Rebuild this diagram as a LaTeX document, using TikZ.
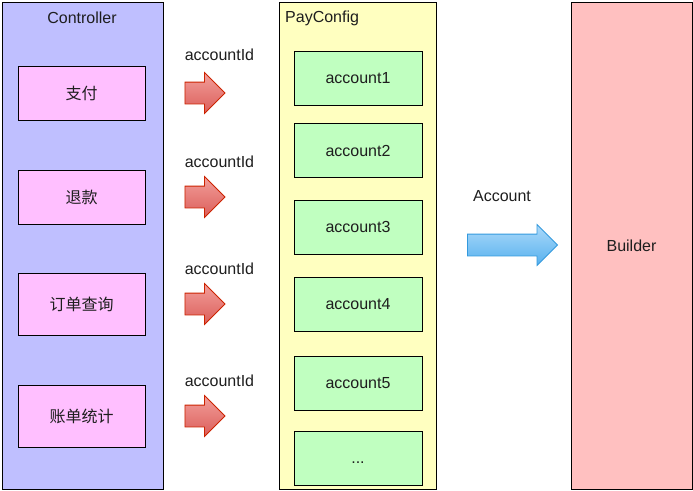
\documentclass[tikz,border=0pt]{standalone}
\usepackage{fontspec}
\setmainfont{Liberation Sans}
\newfontfamily\cjk{Noto Sans CJK SC}
\usetikzlibrary{positioning,shapes.arrows}
\definecolor{ctrlfill}{RGB}{191,191,255}
\definecolor{opfill}{RGB}{255,191,255}
\definecolor{cfgfill}{RGB}{255,255,192}
\definecolor{accfill}{RGB}{192,255,192}
\definecolor{bldfill}{RGB}{255,192,192}
\definecolor{redtop}{RGB}{242,158,154}
\definecolor{redbot}{RGB}{219,94,90}
\definecolor{redline}{RGB}{204,34,0}
\definecolor{bluetop}{RGB}{172,218,250}
\definecolor{bluebot}{RGB}{86,176,238}
\definecolor{blueline}{RGB}{51,153,221}
\definecolor{ink}{RGB}{30,30,30}

\begin{document}
\begin{tikzpicture}[x=1pt, y=-1pt, node distance=118pt, on grid,
            every node/.style={font=\fontsize{16}{19}\selectfont, text=ink},
            box/.style={draw, line width=1pt, inner sep=0pt},
            opbox/.style={box, fill=opfill, minimum width=127pt},
            accbox/.style={box, fill=accfill, minimum width=128pt, minimum height=54pt},
            redarrow/.style={single arrow, draw=redline, line width=0.8pt,
                top color=redtop, bottom color=redbot, inner xsep=0pt,
                inner ysep=10.5pt, single arrow head extend=9.5pt, minimum height=40pt},
            idlabel/.style={anchor=west, inner sep=0pt}
        ]
          \useasboundingbox (0,0) rectangle (693,490);
          % containers
          \node[box, fill=ctrlfill, minimum width=161pt, minimum height=487pt] (ctrl) at (82.5,245.5) {};
          \node (ctrl_t) at (82,17.5) {Controller};
          \node[box, fill=cfgfill, minimum width=157pt, minimum height=487pt] (cfg) at (357.5,245.5) {};
          \node[anchor=west, inner sep=0pt] (cfg_t) at (285,18) {PayConfig};
          \node[box, fill=bldfill, minimum width=121pt, minimum height=487pt] (bld) at (631.5,245.5) {Builder};
          % controller operations
          \node[opbox, minimum height=54pt] (c_1) at (81.5,93) {\cjk 支付};
          \node[opbox, minimum height=54pt] (c_2) at (81.5,197) {\cjk 退款};
          \node[opbox, minimum height=62pt] (c_3) at (81.5,304) {\cjk 订单查询};
          \node[opbox, minimum height=62pt] (c_4) at (81.5,416) {\cjk 账单统计};
          % accountId arrows
          \node[redarrow] (r_1) [right=of c_1] {};
          \node[redarrow] (r_2) [right=of c_2] {};
          \node[redarrow] (r_3) [right=of c_3] {};
          \node[redarrow] (r_4) [right=of c_4] {};
          \node[idlabel] (l_1) [above=38pt of r_1.west, anchor=west] {accountId};
          \node[idlabel] (l_2) [above=35.5pt of r_2.west, anchor=west] {accountId};
          \node[idlabel] (l_3) [above=35.5pt of r_3.west, anchor=west] {accountId};
          \node[idlabel] (l_4) [above=35.5pt of r_4.west, anchor=west] {accountId};
          % accounts
          \node[accbox] (a_1) at (358,78) {account1};
          \node[accbox] (a_2) at (358,150.5) {account2};
          \node[accbox] (a_3) at (358,227) {account3};
          \node[accbox] (a_4) at (358,304) {account4};
          \node[accbox] (a_5) at (358,383) {account5};
          \node[accbox] (a_6) at (358,458) {\vphantom{A}...};
          % account to builder
          \node[single arrow, draw=blueline, line width=0.8pt, top color=bluetop,
                bottom color=bluebot, inner xsep=0pt, inner ysep=10.5pt,
                single arrow head extend=9.5pt, minimum height=90pt] (b_1) at (507,245) {};
          \node (b_l) at (502,196) {Account};
        \end{tikzpicture}
\end{document}
